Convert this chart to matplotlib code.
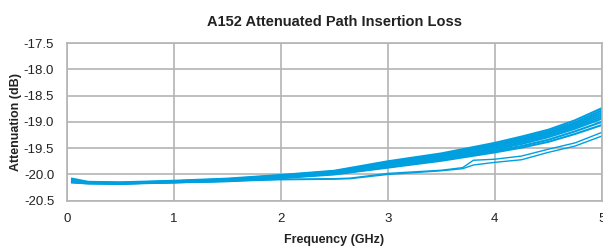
import matplotlib.pyplot as plt

# frequency points (GHz) for the main bundle of traces
freq = [0.05, 0.2, 0.5, 1.0, 1.5, 2.0, 2.5, 3.0, 3.5, 4.0, 4.25, 4.5, 4.75, 5.0]

bundle = [
    [-20.08, -20.14, -20.15, -20.12, -20.08, -20.01, -19.93, -19.75, -19.60, -19.40, -19.28, -19.15, -18.97, -18.74],
    [-20.10, -20.15, -20.16, -20.13, -20.09, -20.02, -19.94, -19.77, -19.62, -19.43, -19.31, -19.18, -19.01, -18.78],
    [-20.12, -20.15, -20.17, -20.13, -20.10, -20.03, -19.95, -19.79, -19.64, -19.45, -19.33, -19.21, -19.04, -18.82],
    [-20.13, -20.16, -20.16, -20.14, -20.10, -20.04, -19.96, -19.81, -19.66, -19.47, -19.36, -19.23, -19.07, -18.86],
    [-20.14, -20.16, -20.17, -20.14, -20.11, -20.05, -19.97, -19.83, -19.68, -19.50, -19.39, -19.26, -19.10, -18.90],
    [-20.15, -20.17, -20.17, -20.15, -20.12, -20.06, -19.98, -19.85, -19.70, -19.52, -19.42, -19.29, -19.13, -18.94],
    [-20.14, -20.16, -20.17, -20.15, -20.12, -20.06, -19.99, -19.86, -19.72, -19.55, -19.46, -19.34, -19.18, -19.00],
    [-20.15, -20.17, -20.18, -20.15, -20.13, -20.07, -20.00, -19.87, -19.74, -19.58, -19.49, -19.38, -19.23, -19.06],
]

# two lower traces with the step near 3.75 GHz
freq_low = [0.05, 0.2, 0.5, 1.0, 1.5, 2.0, 2.5, 2.65, 3.0, 3.5, 3.7, 3.8, 4.0, 4.25, 4.5, 4.75, 5.0]
low1 = [-20.12, -20.16, -20.17, -20.14, -20.12, -20.09, -20.08, -20.07, -19.98, -19.92, -19.87, -19.73, -19.71, -19.65, -19.52, -19.40, -19.20]
low2 = [-20.14, -20.17, -20.18, -20.15, -20.13, -20.10, -20.09, -20.08, -20.00, -19.93, -19.89, -19.82, -19.77, -19.72, -19.58, -19.46, -19.27]

yticks = [-17.5, -18.0, -18.5, -19.0, -19.5, -20.0, -20.5]
xticks = [0, 1, 2, 3, 4, 5]

plt.rcParams['font.family'] = ['Liberation Sans', 'DejaVu Sans']
line_color = '#00a0e0'
grid_color = '#b4b4b4'

fig = plt.figure(figsize=(6.03, 2.5), dpi=100)
ax = fig.add_axes([0.1106, 0.197, 0.998 - 0.1106, 0.828 - 0.197])

for trace in bundle:
    ax.plot(freq, trace, color=line_color, lw=1.5)
ax.plot(freq_low, low1, color=line_color, lw=1.0)
ax.plot(freq_low, low2, color=line_color, lw=1.0)

ax.set_xlim(0, 5)
ax.set_ylim(-20.5, -17.5)
ax.set_xticks(xticks)
ax.set_yticks(yticks)
ax.set_yticklabels(['%.1f' % t for t in yticks])
ax.grid(True, color=grid_color, lw=1.2)
ax.set_axisbelow(True)
for s in ax.spines.values():
    s.set_color(grid_color)
    s.set_linewidth(1.2)
ax.tick_params(length=0, labelsize=9.5, labelcolor='#222222')
ax.tick_params(axis='y', pad=9)
ax.tick_params(axis='x', pad=9)

ax.set_title('A152 Attenuated Path Insertion Loss', fontsize=10.5, fontweight='bold', pad=12, color='#222222')
ax.set_xlabel('Frequency (GHz)', fontsize=9, fontweight='bold', labelpad=6, color='#222222')
ax.set_ylabel('Attenuation (dB)', fontsize=9, fontweight='bold', labelpad=1, color='#222222')

fig.savefig('out.png', dpi=100)
